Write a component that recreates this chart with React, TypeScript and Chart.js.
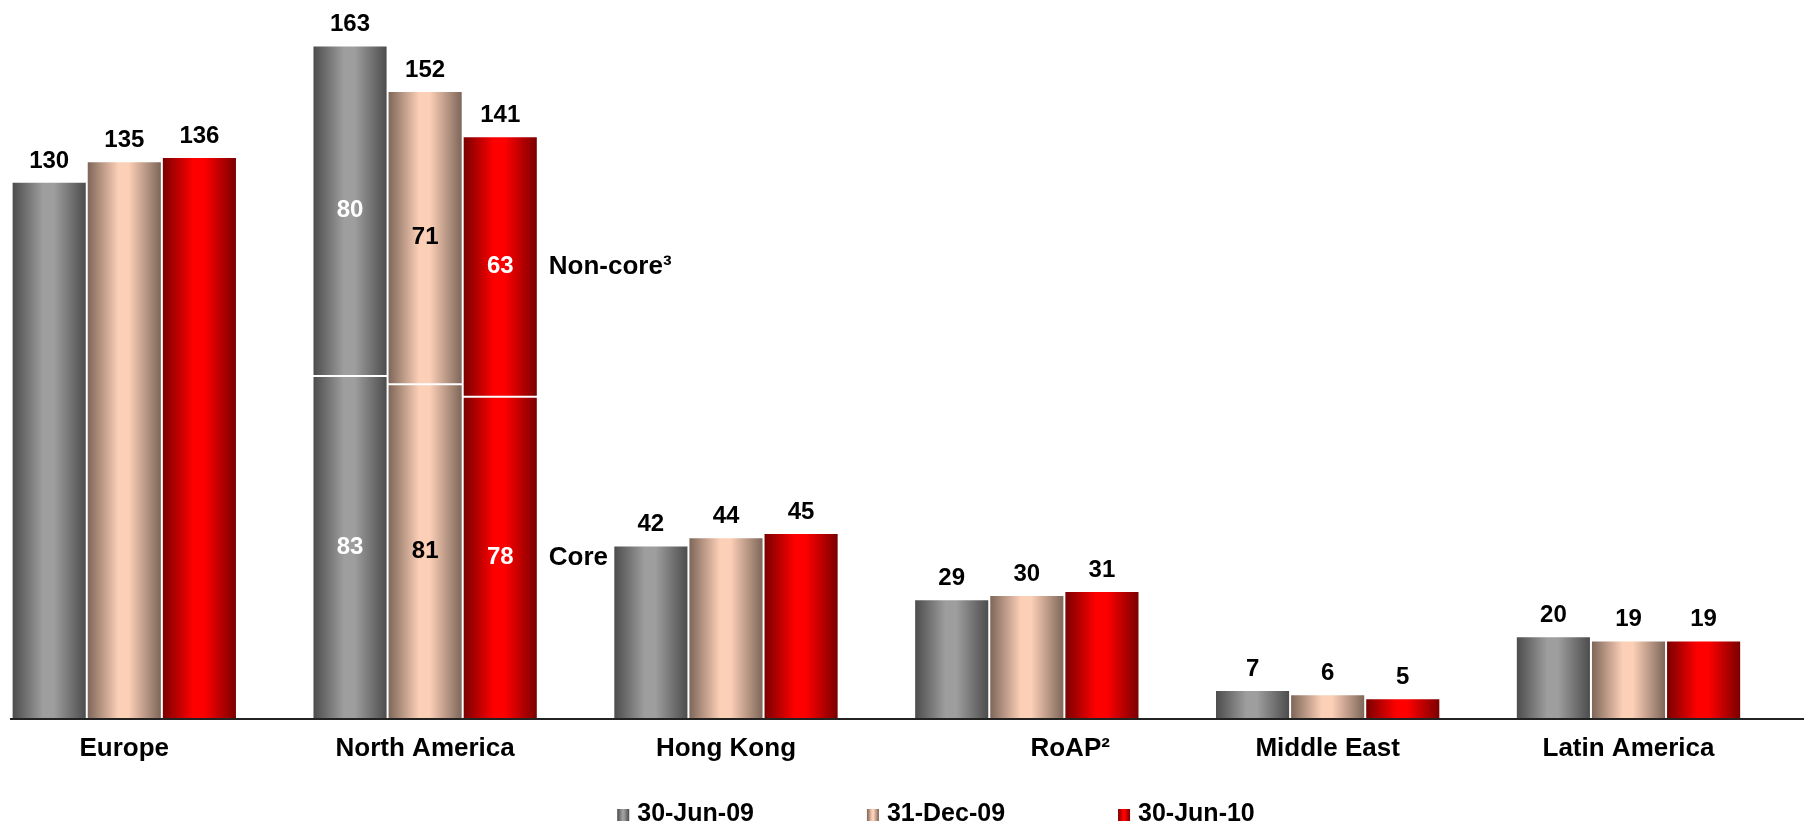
import React, { useEffect, useRef } from 'react';
import { Chart, registerables } from 'chart.js';

Chart.register(...registerables);

const FONT = '"Liberation Sans", Arial, Helvetica, sans-serif';

// Regions along the x axis (the RoAP label sits a little right of its group)
const regions = [
  'Europe',
  'North America',
  'Hong Kong',
  '\u00A0'.repeat(12) + 'RoAP\u00B2',
  'Middle East',
  'Latin America',
];

// Reporting dates
const periods = ['30-Jun-09', '31-Dec-09', '30-Jun-10'];

// Balances per region; North America is split into core and non-core
const core09 = [130, 83, 42, 29, 7, 20];
const core12 = [135, 81, 44, 30, 6, 19];
const core10 = [136, 78, 45, 31, 5, 19];

const nonCore09 = [null, 80, null, null, null, null];
const nonCore12 = [null, 71, null, null, null, null];
const nonCore10 = [null, 63, null, null, null, null];

const segmentNames = ['Core', 'Non-core\u00B3'];

// Cylinder-like shading for each period: dark edges, light centre
const shades = [
  { dark: '#4a4a4a', light: '#9e9e9e', text: '#ffffff' },
  { dark: '#7a6356', light: '#fccfb7', text: '#000000' },
  { dark: '#760000', light: '#ff0000', text: '#ffffff' },
];

function shadeGradient(ctx: CanvasRenderingContext2D, x0: number, x1: number, s: { dark: string; light: string }) {
  const g = ctx.createLinearGradient(x0, 0, x1, 0);
  g.addColorStop(0, s.dark);
  g.addColorStop(0.42, s.light);
  g.addColorStop(0.56, s.light);
  g.addColorStop(1, s.dark);
  return g;
}

const cylinderShading = {
  id: 'cylinderShading',
  beforeDatasetsDraw(chart: any) {
    const ctx = chart.ctx;
    chart.data.datasets.forEach((ds: any, di: number) => {
      const meta = chart.getDatasetMeta(di);
      const s = shades[ds.shade];
      meta.data.forEach((el: any) => {
        if (!isFinite(el.x) || !isFinite(el.width)) return;
        const grad = shadeGradient(ctx, el.x - el.width / 2, el.x + el.width / 2, s);
        el.options = Object.assign({}, el.options, { backgroundColor: grad });
      });
    });
  },
};

const barAnnotations = {
  id: 'barAnnotations',
  afterDatasetsDraw(chart: any) {
    const ctx = chart.ctx;
    const area = chart.chartArea;
    ctx.save();

    // Baseline across the whole width
    ctx.strokeStyle = '#222222';
    ctx.lineWidth = 2;
    ctx.beginPath();
    ctx.moveTo(10, area.bottom);
    ctx.lineTo(chart.width, area.bottom);
    ctx.stroke();

    const nPeriods = periods.length;
    for (let p = 0; p < nPeriods; p++) {
      const layerIdx = [p, p + nPeriods];
      for (let i = 0; i < regions.length; i++) {
        const parts: { value: number; el: any; layer: number }[] = [];
        layerIdx.forEach((di, layer) => {
          const v = chart.data.datasets[di].data[i];
          if (v !== null && v !== undefined) {
            parts.push({ value: v, el: chart.getDatasetMeta(di).data[i], layer });
          }
        });
        if (!parts.length) continue;
        const total = parts.reduce((a, b) => a + b.value, 0);
        const top = parts[parts.length - 1].el;

        ctx.fillStyle = '#000000';
        ctx.font = `bold 24px ${FONT}`;
        ctx.textAlign = 'center';
        ctx.textBaseline = 'alphabetic';
        ctx.fillText(String(total), top.x, top.y - 14);

        if (parts.length > 1) {
          parts.forEach((part) => {
            const el = part.el;
            const cy = (el.y + el.base) / 2;
            ctx.font = `bold 24px ${FONT}`;
            ctx.fillStyle = shades[p].text;
            ctx.textAlign = 'center';
            ctx.textBaseline = 'middle';
            ctx.fillText(String(part.value), el.x, cy);
            if (p === nPeriods - 1) {
              ctx.font = `bold 26px ${FONT}`;
              ctx.fillStyle = '#000000';
              ctx.textAlign = 'left';
              ctx.fillText(segmentNames[part.layer], el.x + el.width / 2 + 11, cy);
            }
          });
        }
      }
    }
    ctx.restore();
  },
};

// Legend row under the axis labels
const periodLegend = {
  id: 'periodLegend',
  afterDraw(chart: any) {
    const ctx = chart.ctx;
    ctx.save();
    ctx.font = `bold 25px ${FONT}`;
    const box = 12;
    const gap = 8;
    const spacing = 113;
    const widths = periods.map((t) => box + gap + ctx.measureText(t).width);
    const total = widths.reduce((a, b) => a + b, 0) + spacing * (periods.length - 1);
    let x = 936 - total / 2;
    const cy = 814;
    periods.forEach((t, k) => {
      ctx.fillStyle = shadeGradient(ctx, x, x + box, shades[k]);
      ctx.fillRect(x, cy - 5, box, box);
      ctx.fillStyle = '#000000';
      ctx.textAlign = 'left';
      ctx.textBaseline = 'middle';
      ctx.fillText(t, x + box + gap, cy);
      x += widths[k] + spacing;
    });
    ctx.restore();
  },
};

export default function App() {
  const canvasRef = useRef<HTMLCanvasElement | null>(null);

  useEffect(() => {
    if (!canvasRef.current) return;
    const coreSets = [core09, core12, core10];
    const nonCoreSets = [nonCore09, nonCore12, nonCore10];
    const common = {
      borderColor: '#ffffff',
      borderWidth: 1,
      borderSkipped: false,
      barPercentage: 1,
      categoryPercentage: 0.749,
      clip: false,
    };
    const datasets: any[] = [
      ...coreSets.map((d, k) => ({
        ...common,
        label: periods[k],
        data: d,
        stack: periods[k],
        shade: k,
        backgroundColor: shades[k].light,
      })),
      ...nonCoreSets.map((d, k) => ({
        ...common,
        label: periods[k] + ' non-core',
        data: d,
        stack: periods[k],
        shade: k,
        backgroundColor: shades[k].light,
      })),
    ];

    const chart = new Chart(canvasRef.current, {
      type: 'bar',
      data: { labels: regions, datasets },
      options: {
        animation: false,
        responsive: false,
        devicePixelRatio: 1,
        layout: { padding: { left: 124.3, right: 175.5, top: 0, bottom: 0 } },
        plugins: {
          legend: { display: false },
          tooltip: { enabled: false },
        },
        scales: {
          x: {
            type: 'category',
            stacked: true,
            offset: false,
            grid: { display: false, drawTicks: false },
            border: { display: false },
            ticks: {
              autoSkip: false,
              maxRotation: 0,
              padding: 14,
              color: '#000000',
              font: { family: FONT, size: 26, weight: 'bold' },
            },
            afterFit: (scale: any) => {
              scale.height = 107;
            },
          },
          y: {
            stacked: true,
            display: false,
            min: 0,
            max: 174,
          },
        },
      } as any,
      plugins: [cylinderShading, barAnnotations, periodLegend],
    });
    return () => chart.destroy();
  }, []);

  return (
    <div style={{ position: 'absolute', left: 0, top: 0, width: 1804, height: 826, background: '#ffffff' }}>
      <canvas ref={canvasRef} width={1804} height={826} />
    </div>
  );
}
